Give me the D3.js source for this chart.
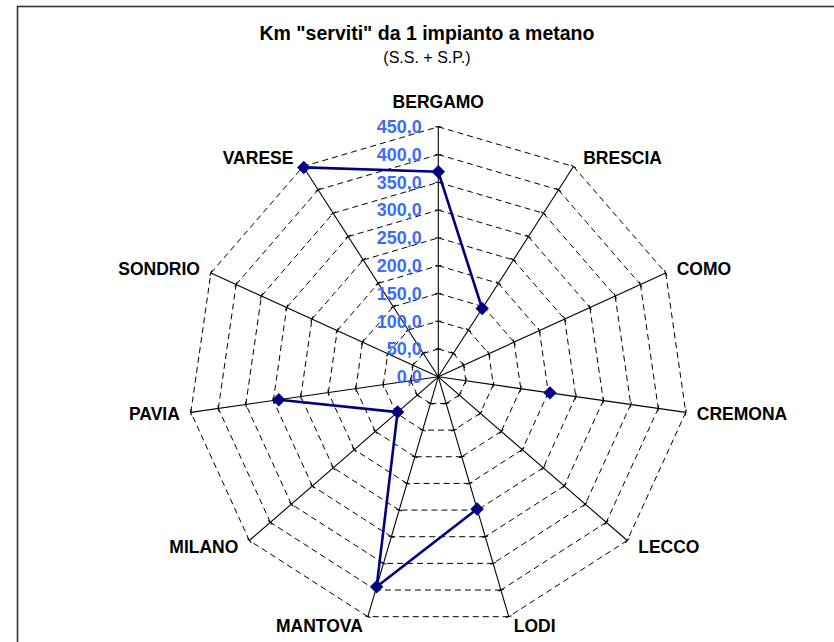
<!DOCTYPE html>
<html>
<head>
<meta charset="utf-8">
<script src="https://cdn.jsdelivr.net/npm/d3@7"></script>
<style>
	body { margin: 0; background: #fff; }
	text { font-family: "Liberation Sans", Arial, sans-serif; }
</style>
</head>
<body>
<svg id="radar" width="834" height="642"></svg>
<script>
// data (km per CNG station, S.S. + S.P.)
var provinces = ['BERGAMO', 'BRESCIA', 'COMO', 'CREMONA', 'LECCO', 'LODI',
	'MANTOVA', 'MILANO', 'PAVIA', 'SONDRIO', 'VARESE'];
var kmServiti = [369, 146, null, 203, null, 248, 394, 97, 290, null, 448];
var tickValues = [0, 50, 100, 150, 200, 250, 300, 350, 400, 450];

var titleText = 'Km "serviti" da 1 impianto a metano';
var subtitleText = '(S.S. + S.P.)';

var svg = d3.select('#radar');
var cx = 438.3, cy = 376.8, R = 250;
var n = provinces.length;

var itFormat = d3.formatLocale({decimal: ',', thousands: '.', grouping: [3], currency: ['', '€']}).format('.1f');

var r = d3.scaleLinear().domain([0, 450]).range([0, R]);
var angle = d3.scaleLinear().domain([0, n]).range([0, 2 * Math.PI]);

function pt(i, v) {
	var a = angle(i);
	return [cx + r(v) * Math.sin(a), cy - r(v) * Math.cos(a)];
}

// frame
svg.append('rect')
	.attr('x', 17.5).attr('y', 6.5)
	.attr('width', 840).attr('height', 660)
	.attr('fill', 'none')
	.attr('stroke', '#333')
	.attr('stroke-width', 1.6);

// title
svg.append('text')
	.attr('x', 427).attr('y', 33).attr('dy', '0.35em')
	.attr('text-anchor', 'middle')
	.attr('font-size', 19.5).attr('font-weight', 'bold')
	.text(titleText);
svg.append('text')
	.attr('x', 427).attr('y', 57).attr('dy', '0.35em')
	.attr('text-anchor', 'middle')
	.attr('font-size', 16)
	.text(subtitleText);

// dashed rings, one segment per side so the dashes restart at each spoke
var grid = svg.append('g')
	.attr('stroke', '#000')
	.attr('stroke-width', 1)
	.attr('stroke-dasharray', '6,4')
	.attr('fill', 'none');

tickValues.slice(1).forEach(function (v) {
	d3.range(n).forEach(function (i) {
		var p0 = pt(i, v), p1 = pt((i + 1) % n, v);
		grid.append('line')
			.attr('x1', p0[0]).attr('y1', p0[1])
			.attr('x2', p1[0]).attr('y2', p1[1]);
	});
});

// spokes with small tick marks
var spokes = svg.append('g')
	.attr('stroke', '#000')
	.attr('stroke-width', 1.1);

d3.range(n).forEach(function (i) {
	var e = pt(i, 450);
	spokes.append('line')
		.attr('x1', cx).attr('y1', cy)
		.attr('x2', e[0]).attr('y2', e[1]);
	var a = angle(i);
	var nx = Math.cos(a) * 3, ny = Math.sin(a) * 3;
	tickValues.slice(1).forEach(function (v) {
		var p = pt(i, v);
		spokes.append('line')
			.attr('x1', p[0] - nx).attr('y1', p[1] - ny)
			.attr('x2', p[0] + nx).attr('y2', p[1] + ny);
	});
});

// value labels along the first spoke
svg.append('g')
	.selectAll('text')
	.data(tickValues)
	.enter()
	.append('text')
	.attr('x', cx - 16.6)
	.attr('y', function (d) { return cy - r(d); })
	.attr('dy', '0.35em')
	.attr('text-anchor', 'end')
	.attr('font-size', 18).attr('font-weight', 'bold')
	.attr('fill', '#3d6cf7')
	.text(function (d) { return itFormat(d); });

// category labels
svg.append('g')
	.selectAll('text')
	.data(provinces)
	.enter()
	.append('text')
	.attr('x', function (d, i) {
		var s = Math.sin(angle(i));
		var dx = Math.abs(s) < 0.05 ? 0 : (s > 0 ? 1 : -1) * Math.min(11, Math.abs(s) * 18);
		return pt(i, 450)[0] + dx;
	})
	.attr('y', function (d, i) {
		var c = Math.cos(angle(i));
		var dy = i === 0 ? -25 : -c * 10;
		return pt(i, 450)[1] + dy;
	})
	.attr('dy', '0.35em')
	.attr('text-anchor', function (d, i) {
		var s = Math.sin(angle(i));
		return Math.abs(s) < 0.05 ? 'middle' : (s > 0 ? 'start' : 'end');
	})
	.attr('font-size', 17.5).attr('font-weight', 'bold')
	.text(function (d) { return d; });

// series: gaps where the value is missing, wrap around to close
var series = provinces.map(function (p, i) { return {i: i, v: kmServiti[i]}; });
var wrapped = series.concat([{i: n, v: kmServiti[0]}]);

var line = d3.line()
	.defined(function (d) { return d.v != null; })
	.x(function (d) { return pt(d.i, d.v)[0]; })
	.y(function (d) { return pt(d.i, d.v)[1]; });

svg.append('path')
	.attr('d', line(wrapped))
	.attr('fill', 'none')
	.attr('stroke', '#000080')
	.attr('stroke-width', 2.6)
	.attr('stroke-linejoin', 'round');

svg.append('g')
	.selectAll('path')
	.data(series.filter(function (d) { return d.v != null; }))
	.enter()
	.append('path')
	.attr('d', d3.symbol().type(d3.symbolDiamond2).size(115))
	.attr('transform', function (d) {
		var p = pt(d.i, d.v);
		return 'translate(' + p[0] + ',' + p[1] + ')';
	})
	.attr('fill', '#000080');
</script>
</body>
</html>
